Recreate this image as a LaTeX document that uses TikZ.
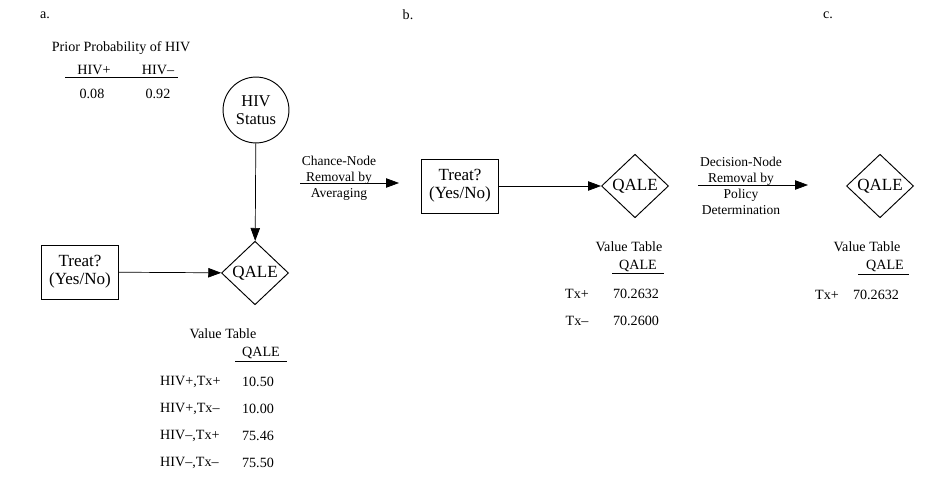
\documentclass[tikz,border=0pt]{standalone}
\usepackage{fontspec}
\setmainfont{Liberation Serif}
\usetikzlibrary{shapes.geometric,arrows.meta}
\tikzset{
  txt/.style={font=\fontsize{12}{14}\selectfont, inner sep=0pt},
  lbl/.style={font=\fontsize{11.5}{13.5}\selectfont, align=center, inner sep=0pt},
  chancenode/.style={draw, circle, line width=0.8pt, minimum size=56pt,
    inner sep=0pt, align=center, font=\fontsize{14}{15.5}\selectfont},
  valuenode/.style={draw, diamond, line width=0.8pt, minimum width=57pt,
    minimum height=54pt, inner sep=0pt, font=\fontsize{14.5}{16}\selectfont},
  decisionnode/.style={draw, rectangle, line width=0.7pt, minimum width=65pt,
    minimum height=46pt, inner sep=0pt, align=center,
    font=\fontsize{14.5}{15.5}\selectfont},
  arr/.style={-{Triangle[length=11pt,width=8pt]}, line width=0.6pt},
}
\begin{document}
\begin{tikzpicture}[x=0.85pt,y=-0.85pt]
  \useasboundingbox (0,0) rectangle (944,479);
  %panel letters
  \node[txt] (pa) at (45,15) {a.};
  \node[txt] (pb) at (408,15) {b.};
  \node[txt] (pc) at (828,15) {c.};

  %prior probability
  \node[txt] (prior) at (121,48) {Prior Probability of HIV};
  \node[txt] (hpos) at (94,70) {HIV+};
  \node[txt] (hneg) at (158,70) {HIV--};
  \draw[line width=0.5pt] (65,77) -- (178,77);
  \node[txt] (ppos) at (92,94) {0.08};
  \node[txt] (pneg) at (158,94) {0.92};

  %panel a
  \node[chancenode] (hiv) at (256,110) {HIV\\Status};
  \node[valuenode] (qa) at (255,273) {QALE};
  \node[decisionnode] (ta) at (80,272) {Treat?\\(Yes/No)};
  \draw[arr] (hiv) -- (qa);
  \draw[arr] (ta) -- (qa);

  %value table a
  \node[txt] (vta) at (223,334) {Value Table};
  \node[txt] (qha) at (261,353) {QALE};
  \draw[line width=0.5pt] (235,361) -- (287,361);
  \foreach \i/\y/\r/\v in {1/382/{HIV+,Tx+}/10.50, 2/409/{HIV+,Tx--}/10.00,
                           3/436/{HIV--,Tx+}/75.46, 4/463/{HIV--,Tx--}/75.50}
  {
    \node[txt, anchor=west] (ra\i) at (160,\y) {\r};
    \node[txt] (va\i) at (258,\y) {\v};
  }

  %chance-node removal
  \coordinate (c1) at (300,183);
  \coordinate (c2) at (399,183);
  \draw[arr] (c1) -- (c2);
  \node[lbl] (cl) at (339,178) {Chance-Node\\Removal by\\Averaging};

  %panel b
  \node[decisionnode] (tb) at (460,186) {Treat?\\(Yes/No)};
  \node[valuenode] (qb) at (635,186) {QALE};
  \draw[arr] (tb) -- (qb);

  %value table b
  \node[txt] (vtb) at (629,247) {Value Table};
  \node[txt] (qhb) at (638,266) {QALE};
  \draw[line width=0.5pt] (612,273) -- (664,273);
  \node[txt] (rb1) at (577,294) {Tx+};
  \node[txt] (vb1) at (636,294) {70.2632};
  \node[txt] (rb2) at (577,321) {Tx--};
  \node[txt] (vb2) at (636,321) {70.2600};

  %decision-node removal
  \coordinate (d1) at (698,185);
  \coordinate (d2) at (808,185);
  \draw[arr] (d1) -- (d2);
  \node[lbl] (dl) at (741,186) {Decision-Node\\Removal by\\Policy\\Determination};

  %panel c
  \node[valuenode] (qc) at (880,186) {QALE};
  \node[txt] (vtc) at (867,247) {Value Table};
  \node[txt] (qhc) at (885,266) {QALE};
  \draw[line width=0.5pt] (858,274) -- (909,274);
  \node[txt] (rc1) at (827,295) {Tx+};
  \node[txt] (vc1) at (876,295) {70.2632};
\end{tikzpicture}
\end{document}
